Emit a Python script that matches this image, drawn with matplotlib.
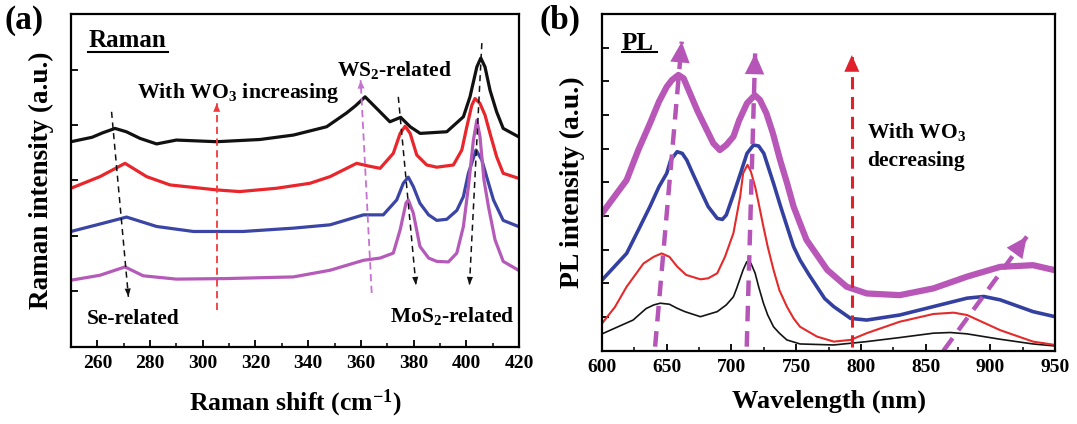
import matplotlib
matplotlib.use('Agg')
import matplotlib.pyplot as plt

plt.rcParams['font.family'] = ['Liberation Serif', 'DejaVu Serif']
plt.rcParams['font.weight'] = 'bold'
plt.rcParams['mathtext.fontset'] = 'custom'
plt.rcParams['mathtext.rm'] = 'Liberation Serif:bold'
plt.rcParams['mathtext.it'] = 'Liberation Serif:bold'
plt.rcParams['mathtext.bf'] = 'Liberation Serif:bold'
plt.rcParams['mathtext.default'] = 'rm'

# ---- Raman spectra (a.u., stacked) ----
raman_x_black = [250, 258, 262, 266.7, 271, 276.2, 282.5, 290, 305.3, 321.7, 334.4, 347,
                 354.6, 358, 361.6, 366, 371, 375.1, 378.7, 382.5, 392.6, 398.9, 401.4,
                 404, 405.5, 407.1, 409, 411.5, 414, 419.8]
raman_y_black = [3.70, 3.78, 3.86, 3.94, 3.88, 3.76, 3.66, 3.73, 3.70, 3.74, 3.82, 3.97,
                 4.22, 4.35, 4.51, 4.30, 4.06, 4.14, 3.97, 3.85, 3.88, 4.15, 4.51,
                 5.05, 5.21, 5.05, 4.63, 4.24, 3.94, 3.79]

raman_x_red = [250, 261, 270.5, 278.7, 287.6, 305.3, 314, 328, 340.7, 348.3, 358.4, 363,
               367.3, 372.3, 374.9, 376.8, 378.7, 381.2, 385, 388.8, 395.1, 398.3, 400.2,
               402.1, 403.3, 405.2, 407.1, 409, 411.5, 414, 419.8]
raman_y_red = [2.86, 3.07, 3.31, 3.07, 2.92, 2.83, 2.80, 2.86, 2.95, 3.07, 3.31, 3.26,
               3.22, 3.49, 3.85, 3.98, 3.85, 3.46, 3.28, 3.24, 3.28, 3.55, 3.97,
               4.36, 4.48, 4.39, 4.18, 3.85, 3.43, 3.13, 3.04]

raman_x_blue = [250, 262.3, 271.1, 282.5, 296.4, 315.3, 334.4, 348.3, 361, 368.5, 373.6,
                376.1, 378, 379.9, 382.4, 385.7, 388.8, 392.6, 396.4, 398.9, 400.8, 403.7,
                405.9, 407.7, 410.3, 414, 419.8]
raman_y_blue = [2.08, 2.23, 2.34, 2.17, 2.08, 2.08, 2.14, 2.20, 2.38, 2.38, 2.65,
                2.95, 3.06, 2.89, 2.59, 2.38, 2.28, 2.30, 2.46, 2.71, 3.13, 3.55,
                3.37, 3.07, 2.65, 2.28, 2.17]

raman_x_mag = [250, 261, 270.5, 277.4, 290, 309, 334.4, 348.3, 361, 367.3, 372.3, 374.9,
               377.1, 378, 379.9, 382.4, 385.7, 388.8, 393.2, 396.4, 398.9, 400.8, 402.7,
               404, 405.2, 406.7, 408.4, 410.9, 414, 419.8]
raman_y_mag = [1.20, 1.29, 1.44, 1.28, 1.22, 1.23, 1.26, 1.38, 1.56, 1.60, 1.69, 2.11,
               2.59, 2.65, 2.41, 1.81, 1.60, 1.54, 1.53, 1.69, 2.17, 2.89, 3.73,
               4.09, 3.79, 3.01, 2.53, 1.93, 1.54, 1.38]

# ---- PL spectra (a.u., stacked) ----
pl_x_black = [600, 624, 634, 640, 645, 652, 658, 664, 676, 689, 696, 701.5, 704, 709, 711.8,
              715, 718.3, 721, 724.7, 728, 732.5, 737, 742.8, 753, 779, 804.5, 830, 856,
              869, 882, 907.6, 933, 950]
pl_y_black = [0.50, 0.91, 1.25, 1.36, 1.41, 1.38, 1.26, 1.16, 1.01, 1.16, 1.36, 1.60, 1.85,
              2.40, 2.64, 2.60, 2.30, 1.90, 1.41, 1.06, 0.71, 0.52, 0.32, 0.20, 0.17, 0.27,
              0.39, 0.52, 0.54, 0.50, 0.34, 0.20, 0.14]

pl_x_red = [600, 610, 619, 632, 640, 646, 652, 658, 665, 676, 682, 689, 695, 701.5, 706.7,
            709, 712.4, 715, 718.3, 721, 724.7, 728, 732.5, 737, 742.8, 748, 753, 766, 779,
            792, 804.5, 830, 856, 871.6, 882, 907.6, 933, 950]
pl_y_red = [0.81, 1.30, 1.90, 2.59, 2.79, 2.89, 2.79, 2.50, 2.25, 2.12, 2.15, 2.30, 2.79,
            3.49, 4.57, 5.27, 5.52, 5.32, 4.87, 4.38, 3.68, 3.09, 2.40, 1.80, 1.31, 0.96,
            0.71, 0.42, 0.27, 0.32, 0.52, 0.86, 1.09, 1.13, 1.06, 0.61, 0.27, 0.17]

pl_x_blue = [600, 619, 628, 637, 644, 650, 653, 658, 662, 665.5, 670, 676, 682, 689, 693,
             696, 701, 707, 712, 717, 721, 725, 732.5, 738, 743, 748, 753, 760, 766, 772,
             779, 792, 804.5, 830, 856, 882, 895, 907.6, 933, 950]
pl_y_blue = [2.10, 2.89, 3.58, 4.28, 4.87, 5.27, 5.66, 5.91, 5.86, 5.66, 5.27, 4.77, 4.28,
             3.93, 3.90, 4.03, 4.58, 5.27, 5.86, 6.11, 6.08, 5.86, 4.97, 4.28, 3.68, 3.09,
             2.69, 2.25, 1.90, 1.55, 1.31, 0.96, 0.91, 1.06, 1.31, 1.56, 1.61, 1.51, 1.16,
             1.01]

pl_x_mag = [600, 619, 628, 637, 644, 650, 654, 659, 663, 668, 674, 681, 686, 691, 696,
            701.5, 706, 712, 718, 722, 727, 732, 737.6, 743, 748, 753, 758, 774, 789, 804.5,
            830, 856, 882, 907.6, 933, 950]
pl_y_mag = [4.08, 5.07, 5.96, 6.75, 7.40, 7.84, 8.04, 8.19, 8.09, 7.64, 7.10, 6.55, 6.16,
            5.96, 6.11, 6.36, 6.85, 7.35, 7.59, 7.45, 7.05, 6.46, 5.66, 4.97, 4.28, 3.78,
            3.29, 2.40, 1.90, 1.70, 1.65, 1.85, 2.20, 2.49, 2.54, 2.39]

raman_ticks = list(range(260, 421, 20))
pl_ticks = list(range(600, 951, 50))


def dashed_arrow(ax, tail, tip, color, lw, dashes, hl, hw, scale=10):
    ax.plot([tail[0], tip[0]], [tail[1], tip[1]], color=color, lw=lw, dashes=dashes)
    ax.annotate('', xy=tip, xytext=tail,
                arrowprops=dict(arrowstyle='-|>,head_length=%g,head_width=%g' % (hl, hw),
                                color=color, lw=0, shrinkA=0, shrinkB=0,
                                mutation_scale=scale))


def style_axes(ax):
    for s in ax.spines.values():
        s.set_linewidth(1.6)
    ax.tick_params(which='both', direction='in', top=False, right=False)
    ax.tick_params(which='major', length=5, width=1.3, labelsize=14, pad=6)
    ax.tick_params(which='minor', length=3, width=1.1)
    ax.tick_params(axis='y', labelleft=False)


fig = plt.figure(figsize=(10.77, 4.24), dpi=100)

# ---------------- (a) Raman ----------------
ax1 = fig.add_axes([0.0659, 0.1823, 0.416, 0.784])
ax1.plot(raman_x_black, raman_y_black, color='#111111', lw=2.3)
ax1.plot(raman_x_red, raman_y_red, color='#e8262b', lw=2.3)
ax1.plot(raman_x_blue, raman_y_blue, color='#3a45a5', lw=2.3)
ax1.plot(raman_x_mag, raman_y_mag, color='#b55ab8', lw=2.3)
ax1.set_xlim(250, 420)
ax1.set_ylim(0, 6)
ax1.set_xticks(raman_ticks)
ax1.set_xticks(range(250, 421, 10), minor=True)
ax1.set_yticks([1, 2, 3, 4, 5])
style_axes(ax1)
ax1.set_xlabel('Raman shift (cm$^{-1}$)', fontsize=18.5, fontweight='bold', labelpad=11)
ax1.set_ylabel('Raman intensity (a.u.)', fontsize=19.5, fontweight='bold', labelpad=12)

dashed_arrow(ax1, (305.3, 0.66), (305.3, 4.39), '#f03a3a', 1.3, (4, 2.5), 0.6, 0.25)
dashed_arrow(ax1, (364.1, 0.97), (359.9, 4.81), '#c572d2', 1.3, (4, 2.5), 0.6, 0.25)
dashed_arrow(ax1, (265.4, 4.24), (271.8, 0.90), '#111111', 1.1, (4, 3), 0.6, 0.22)
dashed_arrow(ax1, (374.2, 4.51), (380.9, 1.11), '#111111', 1.1, (4, 3), 0.6, 0.22)
dashed_arrow(ax1, (405.9, 5.48), (401.2, 1.11), '#111111', 1.1, (4, 3), 0.6, 0.22)

ax1.text(256.5, 5.52, 'Raman', fontsize=18, fontweight='bold', va='center')
ax1.plot([256.5, 287.0], [5.32, 5.32], color='black', lw=1.5)
ax1.text(274.9, 4.58, 'With WO$_3$ increasing', fontsize=15.7, va='center')
ax1.text(350.8, 5.00, 'WS$_2$-related', fontsize=15.5, va='center')
ax1.text(256.0, 0.50, 'Se-related', fontsize=15.5, va='center')
ax1.text(418.5, 0.55, 'MoS$_2$-related', fontsize=15.5, va='center', ha='right')

# ---------------- (b) PL ----------------
ax2 = fig.add_axes([0.559, 0.1729, 0.4206, 0.794])
ax2.plot(pl_x_black, pl_y_black, color='#141414', lw=1.2)
ax2.plot(pl_x_red, pl_y_red, color='#e42a2a', lw=1.5)
ax2.plot(pl_x_blue, pl_y_blue, color='#3340a0', lw=2.6)
ax2.plot(pl_x_mag, pl_y_mag, color='#b857b8', lw=4.5)
ax2.set_xlim(600, 950)
ax2.set_ylim(0, 10)
ax2.set_xticks(pl_ticks)
ax2.set_xticks(range(600, 951, 25), minor=True)
ax2.set_yticks(range(1, 10))
style_axes(ax2)
ax2.set_xlabel('Wavelength (nm)', fontsize=19, fontweight='bold', labelpad=10)
ax2.set_ylabel('PL intensity (a.u.)', fontsize=20, fontweight='bold', labelpad=12)

dashed_arrow(ax2, (641.0, 0.12), (661.6, 9.18), '#b555b8', 3.2, (3.5, 2.2), 0.75, 0.35, 20)
dashed_arrow(ax2, (711.8, 0.12), (718.3, 8.83), '#b555b8', 3.2, (3.5, 2.2), 0.75, 0.35, 20)
dashed_arrow(ax2, (863.8, 0.0), (928.2, 3.39), '#b555b8', 3.2, (3.5, 2.2), 0.75, 0.35, 20)
dashed_arrow(ax2, (793.0, 0.10), (793.0, 8.78), '#e0202a', 2.2, (4, 2.5), 1.0, 0.45, 12)

ax2.text(615.2, 9.13, 'PL', fontsize=18, fontweight='bold', va='center')
ax2.plot([615.2, 642.2], [8.86, 8.86], color='black', lw=1.5)
ax2.text(804.5, 6.08, 'With WO$_3$\ndecreasing', fontsize=15.5, va='center',
         linespacing=1.5)

fig.text(0.004, 0.952, '(a)', fontsize=24, fontweight='bold', va='center')
fig.text(0.501, 0.952, '(b)', fontsize=24, fontweight='bold', va='center')

fig.savefig('out.png', dpi=100)
